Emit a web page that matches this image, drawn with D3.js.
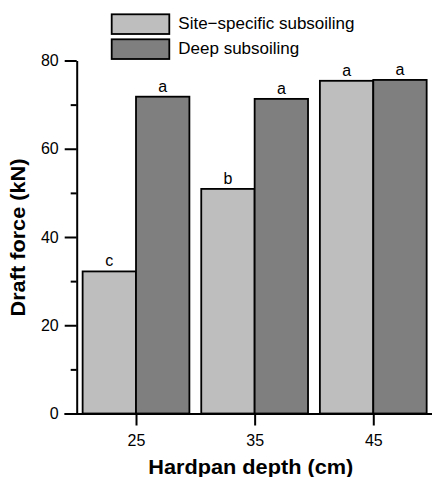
<!DOCTYPE html>
<html>
<head>
<meta charset="utf-8">
<script src="https://cdn.jsdelivr.net/npm/d3@7"></script>
<style>
  html, body { margin: 0; padding: 0; background: #fff; }
  svg { display: block; font-family: "Liberation Sans", Arial, Helvetica, sans-serif; }
</style>
</head>
<body>
<svg id="chart" width="432" height="477"></svg>
<script>
const depths = [25, 35, 45];
const seriesNames = ["Site\u2212specific subsoiling", "Deep subsoiling"];
const siteSpecific = [32.2, 50.9, 75.4];
const deepSubsoil = [71.8, 71.3, 75.6];
const siteLetters = ["c", "b", "a"];
const deepLetters = ["a", "a", "a"];
const yMajorTicks = [0, 20, 40, 60, 80];
const yMinorTicks = [10, 30, 50, 70];
const colors = ["#BEBEBE", "#7F7F7F"];

const svg = d3.select("#chart");
const barHalf = 4.5; // bar width in cm units

const x = d3.scaleLinear().domain([18.93, 49.95]).range([64, 432]);
const y = d3.scaleLinear().domain([0, 80]).range([413.5, 60.5]);

const series = [
  { name: seriesNames[0], values: siteSpecific, letters: siteLetters, color: colors[0], off: -barHalf },
  { name: seriesNames[1], values: deepSubsoil, letters: deepLetters, color: colors[1], off: 0 }
];

// Bars
series.forEach(s => {
  const g = svg.append("g");
  depths.forEach((d, i) => {
    const x0 = x(d + s.off), x1 = x(d + s.off + barHalf);
    g.append("rect")
      .attr("x", x0).attr("y", y(s.values[i]))
      .attr("width", x1 - x0).attr("height", y(0) - y(s.values[i]))
      .attr("fill", s.color).attr("stroke", "#000").attr("stroke-width", 1.8);
    g.append("text")
      .attr("x", (x0 + x1) / 2).attr("y", y(s.values[i]) - 5)
      .attr("text-anchor", "middle").attr("font-size", 16).attr("fill", "#000")
      .text(s.letters[i]);
  });
});

// Y axis (major)
const yAxis = svg.append("g").attr("transform", "translate(76.7,0)")
  .call(d3.axisLeft(y).tickValues(yMajorTicks).tickSize(12).tickSizeOuter(0).tickPadding(6).tickFormat(d3.format("d")));
// Y minor ticks
const yMinor = svg.append("g").attr("transform", "translate(76.7,0)")
  .call(d3.axisLeft(y).tickValues(yMinorTicks).tickSize(6).tickSizeOuter(0).tickFormat(""));
yMinor.select(".domain").remove();

// X axis
const xAxis = svg.append("g").attr("transform", `translate(0,${y(0)})`)
  .call(d3.axisBottom(x).tickValues(depths).tickSize(12).tickSizeOuter(0).tickPadding(9).tickFormat(d3.format("d")));

[yAxis, yMinor, xAxis].forEach(a => {
  a.selectAll("path, line").attr("stroke", "#000").attr("stroke-width", 2);
  a.selectAll("text").attr("font-size", 16).attr("fill", "#000")
    .attr("font-family", "'Liberation Sans', Arial, Helvetica, sans-serif");
});

// Axis titles
svg.append("text")
  .attr("x", 250.8).attr("y", 473.5)
  .attr("text-anchor", "middle").attr("font-size", 20).attr("font-weight", "bold")
  .attr("textLength", 205).attr("lengthAdjust", "spacingAndGlyphs")
  .text("Hardpan depth (cm)");

svg.append("text")
  .attr("transform", "translate(24.5,237.5) rotate(-90)")
  .attr("text-anchor", "middle").attr("font-size", 20).attr("font-weight", "bold")
  .attr("textLength", 158).attr("lengthAdjust", "spacingAndGlyphs")
  .text("Draft force (kN)");

// Legend
const legend = svg.append("g");
series.forEach((s, i) => {
  const top = 14.3 + i * 25;
  legend.append("rect")
    .attr("x", 111.7).attr("y", top).attr("width", 57.6).attr("height", 19.7)
    .attr("fill", s.color).attr("stroke", "#000").attr("stroke-width", 1.8);
  legend.append("text")
    .attr("x", 178.3).attr("y", top + 14.2)
    .attr("font-size", 17).attr("fill", "#000")
    .text(s.name);
});
</script>
</body>
</html>
